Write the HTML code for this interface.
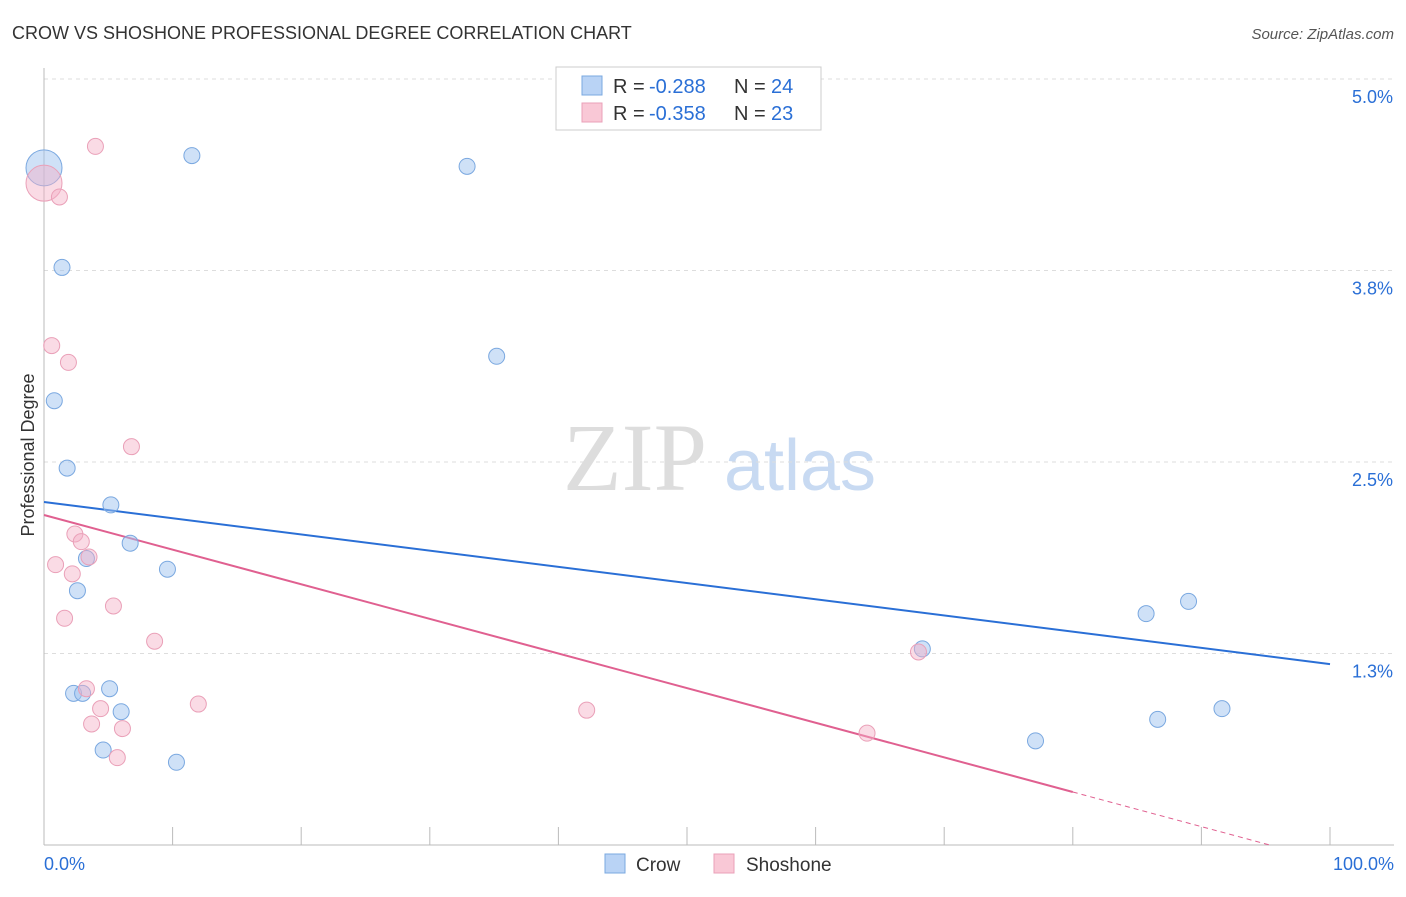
<!DOCTYPE html>
<html><head><meta charset="utf-8"><style>
body{margin:0;background:#fff;font-family:"Liberation Sans",sans-serif;}
</style></head><body>
<svg width="1406" height="892" xmlns="http://www.w3.org/2000/svg">
<text x="12" y="39" font-size="18" fill="#333">CROW VS SHOSHONE PROFESSIONAL DEGREE CORRELATION CHART</text>
<text x="1394" y="39" font-size="15" fill="#555" font-style="italic" text-anchor="end">Source: ZipAtlas.com</text>
<g>
<text x="635" y="490" font-size="96" font-family="Liberation Serif,serif" fill="#ddd" text-anchor="middle">ZIP</text>
<text x="800" y="490" font-size="72" fill="#c8daf2" text-anchor="middle">atlas</text>
</g>
<g id="grid"></g><g id="axes"></g><g id="lines"></g><g id="pts"></g>
<g>
<rect x="556" y="67" width="265" height="63" fill="#fff" stroke="#ccc"/>
<rect x="582" y="76" width="20" height="19" fill="#b9d3f5" stroke="#7aa8e0"/>
<text x="613" y="93" font-size="20" fill="#333">R =</text>
<text x="649" y="93" font-size="20" fill="#2a6fd6">-0.288</text>
<text x="734" y="93" font-size="20" fill="#333">N =</text>
<text x="771" y="93" font-size="20" fill="#2a6fd6">24</text>
<rect x="582" y="103" width="20" height="19" fill="#f9c8d6" stroke="#eaa0b8"/>
<text x="613" y="120" font-size="20" fill="#333">R =</text>
<text x="649" y="120" font-size="20" fill="#2a6fd6">-0.358</text>
<text x="734" y="120" font-size="20" fill="#333">N =</text>
<text x="771" y="120" font-size="20" fill="#2a6fd6">23</text>
</g>
<text x="34" y="455" font-size="18" fill="#333" transform="rotate(-90 34 455)" text-anchor="middle">Professional Degree</text>
<text x="44" y="870" font-size="18" fill="#2a6fd6">0.0%</text>
<text x="1394" y="870" font-size="18" fill="#2a6fd6" text-anchor="end">100.0%</text>
<g>
<rect x="605" y="854" width="20" height="19" fill="#b9d3f5" stroke="#7aa8e0"/>
<text x="636" y="871" font-size="19" fill="#333">Crow</text>
<rect x="714" y="854" width="20" height="19" fill="#f9c8d6" stroke="#eaa0b8"/>
<text x="746" y="871" font-size="19" fill="#333">Shoshone</text>
</g>
</svg>
<script>
const yTicks=[5.0,3.75,2.5,1.25];
const yTickLabels=["5.0%","3.8%","2.5%","1.3%"];
const crowX=[0,11.5,32.9,1.4,35.2,0.8,1.8,5.2,6.7,3.3,9.6,2.6,85.7,89.0,68.3,2.3,3.0,5.1,6.0,4.6,10.3,77.1,86.6,91.6];
const crowY=[4.42,4.50,4.43,3.77,3.19,2.90,2.46,2.22,1.97,1.87,1.80,1.66,1.51,1.59,1.28,0.99,0.99,1.02,0.87,0.62,0.54,0.68,0.82,0.89];
const shoX=[0,4.0,1.2,0.6,1.9,6.8,2.4,2.9,3.5,0.9,2.2,5.4,1.6,8.6,68.0,3.3,12.0,4.4,42.2,3.7,6.1,64.0,5.7];
const shoY=[4.32,4.56,4.23,3.26,3.15,2.60,2.03,1.98,1.88,1.83,1.77,1.56,1.48,1.33,1.26,1.02,0.92,0.89,0.88,0.79,0.76,0.73,0.57];
const crowTrend=[2.239,1.181];
const shoTrend=[2.154,-0.106];
const NS="http://www.w3.org/2000/svg";
const X=p=>44+p*12.86, Y=v=>79+(5-v)*153.2;
function mk(t,a,p){const e=document.createElementNS(NS,t);for(const k in a)e.setAttribute(k,a[k]);p.appendChild(e);return e;}
const g=document.getElementById('grid'),ax=document.getElementById('axes'),ln=document.getElementById('lines'),pt=document.getElementById('pts');
yTicks.forEach((v,i)=>{
 const l=mk('line',{x1:44,x2:1394,y1:Y(v),y2:Y(v),stroke:'#ddd','stroke-dasharray':'4 4'},g);
 
 
 const t=mk('text',{x:1393,y:Y(v)+24,'font-size':18,fill:'#2a6fd6','text-anchor':'end'},g);
 t.textContent=yTickLabels[i];
 
 
});
mk('line',{x1:44,x2:44,y1:68,y2:845,stroke:'#bbb'},ax);
mk('line',{x1:44,x2:1394,y1:845,y2:845,stroke:'#bbb'},ax);
for(let i=0;i<=10;i++){const t=mk('line',{x1:X(i*10),x2:X(i*10),y1:827,y2:845,stroke:'#bbb'},ax);
 
 }
const cl=mk('line',{x1:X(0),y1:Y(crowTrend[0]),x2:X(100),y2:Y(crowTrend[1]),stroke:'#2a6fd6','stroke-width':2},ln);


const sv=p=>shoTrend[0]+(shoTrend[1]-shoTrend[0])*p/100;
const sl=mk('line',{x1:X(0),y1:Y(sv(0)),x2:X(80),y2:Y(sv(80)),stroke:'#e06090','stroke-width':2},ln);


const pz=-shoTrend[0]/((shoTrend[1]-shoTrend[0])/100);
const sd=mk('line',{x1:X(80),y1:Y(sv(80)),x2:X(pz),y2:Y(0),stroke:'#e06090','stroke-width':1,'stroke-dasharray':'5 4'},ln);


function pts(xs,ys,fill,stroke,name){xs.forEach((x,i)=>{
 const c=mk('circle',{cx:X(x),cy:Y(ys[i]),r:i==0?18:8,fill:fill,stroke:stroke,'stroke-width':1},pt);
 
 });}
pts(crowX,crowY,'rgba(160,196,240,0.5)','#7aa8e0','crow-point');
pts(shoX,shoY,'rgba(245,175,198,0.45)','#eaa0b8','shoshone-point');
</script>
</body></html>
